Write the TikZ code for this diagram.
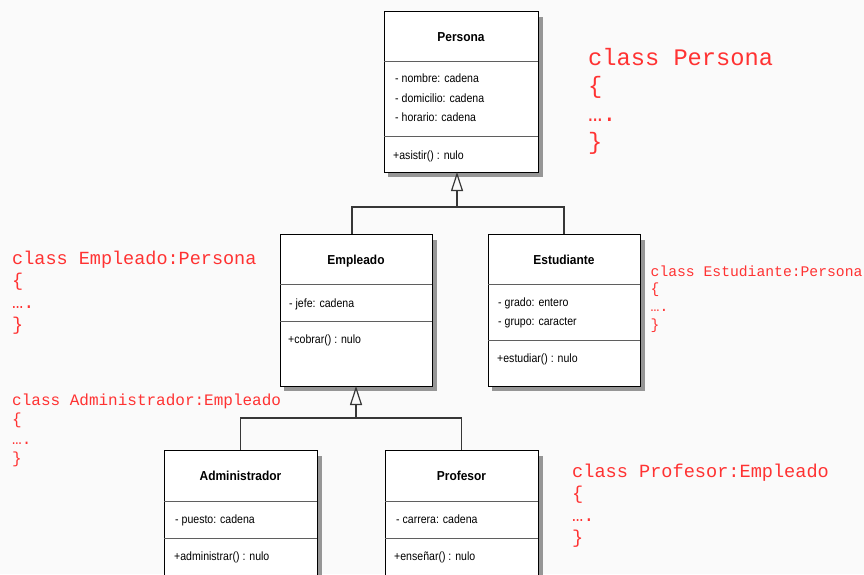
\documentclass[tikz,border=0pt]{standalone}
\usepackage{fontspec}
\setmainfont{Liberation Sans}
\newfontfamily\umlfont[FakeStretch=0.88]{Liberation Sans}
\newfontfamily\umltitlefont[FakeStretch=0.92]{Liberation Sans}
\newfontfamily\codefont{Liberation Mono}
\usetikzlibrary{arrows.meta,calc}

\definecolor{codered}{RGB}{255,50,50}
\definecolor{paper}{RGB}{250,250,250}
\definecolor{rulegray}{RGB}{95,95,95}
\definecolor{wiregray}{RGB}{55,55,55}
\definecolor{shadegray}{RGB}{150,150,150}

\tikzset{
  classbox/.style={draw=black, line width=0.9pt, fill=white, anchor=north west,
    inner sep=0pt, outer sep=0pt},
  shadowstrip/.style={fill=shadegray},
  sep/.style={draw=rulegray, line width=0.8pt},
  ctitle/.style={anchor=base, inner sep=0pt,
    font=\umltitlefont\bfseries\fontsize{13}{15}\selectfont},
  attr/.style={anchor=base west, inner sep=0pt, font=\umlfont\fontsize{12}{14}\selectfont},
  code/.style={anchor=base west, inner sep=0pt, text=codered},
  wire/.style={draw=wiregray, line width=1.2pt},
  inherit/.style={wire, -{Triangle[open, width=12pt, length=19pt]}},
}

% grey offset shadow along the right and bottom edges of a class box
\newcommand\boxshadow[1]{%
  \fill[shadowstrip] ([xshift=0.5pt, yshift=-6pt]#1.north east)
    rectangle ([xshift=4.5pt, yshift=-4.5pt]#1.south east);
  \fill[shadowstrip] ([xshift=4pt, yshift=-0.5pt]#1.south west)
    rectangle ([xshift=0.5pt, yshift=-4.5pt]#1.south east);
}

% red code fragment: name, x, first baseline, font size, line step, header
\newcommand\codeblock[6]{%
  \node[code, font=\codefont\fontsize{#4}{#4}\selectfont] (#1-1) at (#2,#3) {#6};
  \node[code, font=\codefont\fontsize{#4}{#4}\selectfont] (#1-2) at (#2,#3+#5) {\{};
  \node[code, font=\codefont\fontsize{#4}{#4}\selectfont] (#1-3) at (#2,#3+2*#5) {….};
  \node[code, font=\codefont\fontsize{#4}{#4}\selectfont] (#1-4) at (#2,#3+3*#5) {\}};
}

\begin{document}
\begin{tikzpicture}[x=1pt, y=-1pt]
  \clip (0,0) rectangle (864,574);
  \fill[paper] (0,0) rectangle (864,574);

  % ---- class boxes ----
  \node[classbox, minimum width=154pt, minimum height=161pt] (persona) at (384,11) {};
  \node[classbox, minimum width=152pt, minimum height=152pt] (empleado) at (280,234) {};
  \node[classbox, minimum width=152pt, minimum height=152pt] (estudiante) at (488,234) {};
  \node[classbox, minimum width=153pt, minimum height=150pt] (admin) at (164,450) {};
  \node[classbox, minimum width=153pt, minimum height=150pt] (profesor) at (385,450) {};

  \boxshadow{persona}
  \boxshadow{empleado}
  \boxshadow{estudiante}
  \boxshadow{admin}
  \boxshadow{profesor}

  % compartment rules
  \draw[sep] ([yshift=-50pt]persona.north west) -- ([yshift=-50pt]persona.north east);
  \draw[sep] ([yshift=-125pt]persona.north west) -- ([yshift=-125pt]persona.north east);
  \draw[sep] ([yshift=-50pt]empleado.north west) -- ([yshift=-50pt]empleado.north east);
  \draw[sep] ([yshift=-87pt]empleado.north west) -- ([yshift=-87pt]empleado.north east);
  \draw[sep] ([yshift=-50pt]estudiante.north west) -- ([yshift=-50pt]estudiante.north east);
  \draw[sep] ([yshift=-106pt]estudiante.north west) -- ([yshift=-106pt]estudiante.north east);
  \draw[sep] ([yshift=-51pt]admin.north west) -- ([yshift=-51pt]admin.north east);
  \draw[sep] ([yshift=-88pt]admin.north west) -- ([yshift=-88pt]admin.north east);
  \draw[sep] ([yshift=-51pt]profesor.north west) -- ([yshift=-51pt]profesor.north east);
  \draw[sep] ([yshift=-88pt]profesor.north west) -- ([yshift=-88pt]profesor.north east);

  % ---- class texts ----
  \node[ctitle] (persona-name) at (461,41.5) {Persona};
  \node[attr] (persona-a1) at (395,82) {- nombre: cadena};
  \node[attr] (persona-a2) at (395,102) {- domicilio: cadena};
  \node[attr] (persona-a3) at (395,121) {- horario: cadena};
  \node[attr] (persona-m1) at (393,159) {+asistir() : nulo};

  \node[ctitle] (empleado-name) at (356,264) {Empleado};
  \node[attr] (empleado-a1) at (289,307) {- jefe: cadena};
  \node[attr] (empleado-m1) at (288,343) {+cobrar() : nulo};

  \node[ctitle] (estudiante-name) at (564,264) {Estudiante};
  \node[attr] (estudiante-a1) at (498,306.5) {- grado: entero};
  \node[attr] (estudiante-a2) at (498,325.5) {- grupo: caracter};
  \node[attr] (estudiante-m1) at (497,362) {+estudiar() : nulo};

  \node[ctitle] (admin-name) at (240.5,480.5) {Administrador};
  \node[attr] (admin-a1) at (175,523) {- puesto: cadena};
  \node[attr] (admin-m1) at (174,560) {+administrar() : nulo};

  \node[ctitle] (profesor-name) at (461.5,480.5) {Profesor};
  \node[attr] (profesor-a1) at (396,523) {- carrera: cadena};
  \node[attr] (profesor-m1) at (394,560) {+enseñar() : nulo};

  % ---- generalisation connectors ----
  \coordinate (bar1) at (457,207);
  \draw[wire] ([xshift=-4pt]empleado.north) |- (bar1) -| (estudiante.north);
  \draw[inherit] (bar1) -- (bar1 |- persona.south);

  \coordinate (bar2) at (356,418);
  \draw[wire] (admin.north) |- (bar2) -| (profesor.north);
  \draw[inherit] (bar2) -- (bar2 |- empleado.south);

  % ---- C++ style declarations ----
  \codeblock{cpersona}{588}{65}{23.7}{28}{class Persona}
  \codeblock{cempleado}{12}{264}{18.5}{22.3}{class Empleado:Persona}
  \codeblock{cadmin}{12}{405}{16}{19.5}{class Administrador:Empleado}
  \codeblock{cestudiante}{650.5}{276}{14.7}{17.7}{class Estudiante:Persona}
  \codeblock{cprofesor}{572}{477}{18.6}{22}{class Profesor:Empleado}
\end{tikzpicture}
\end{document}
